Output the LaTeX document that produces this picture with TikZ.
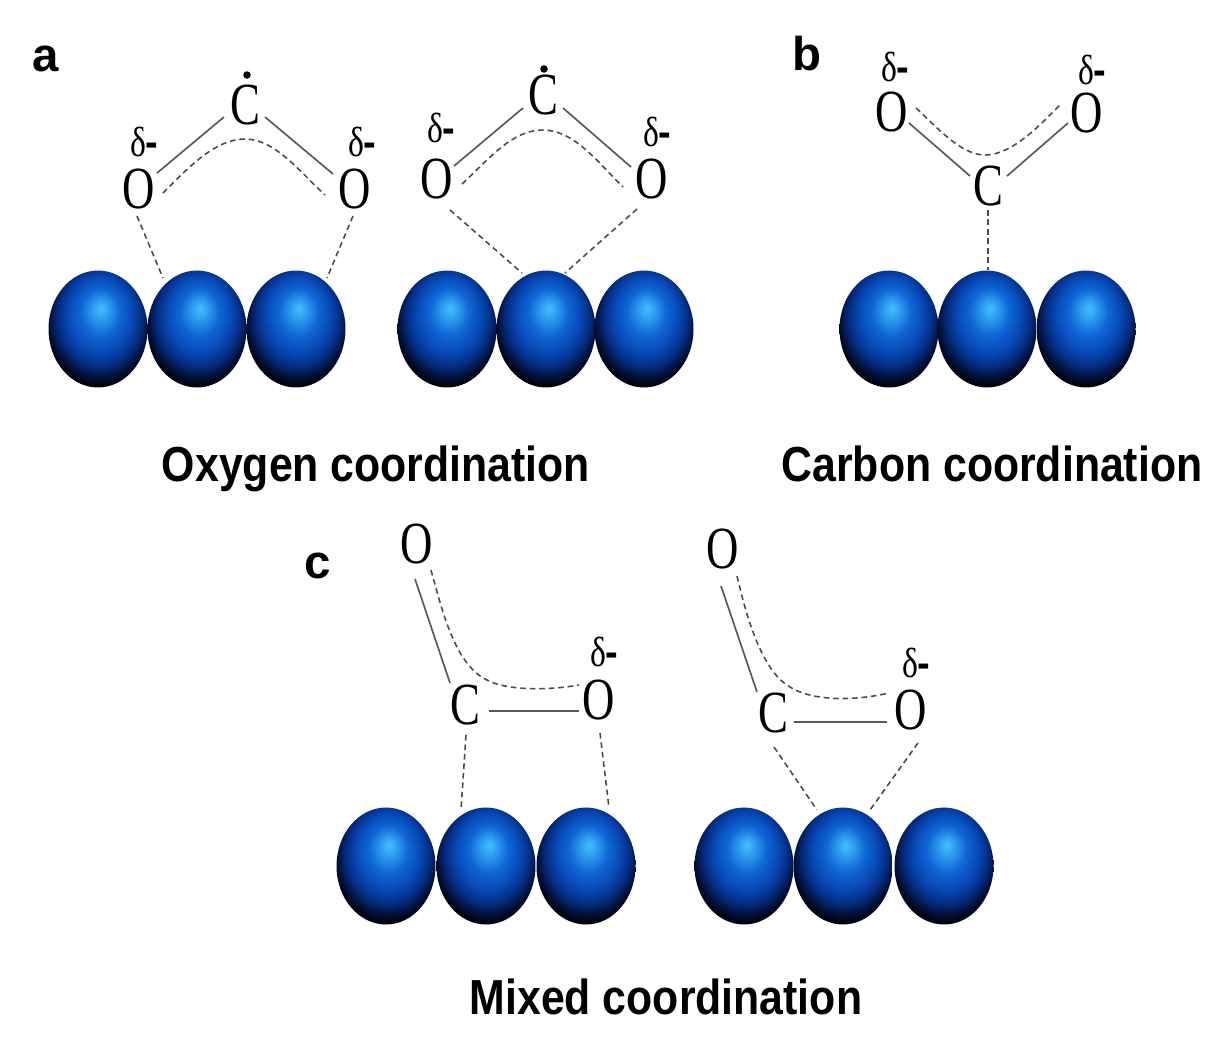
\documentclass[tikz,border=0pt]{standalone}
\usepackage{fontspec}
\setmainfont{Liberation Serif}
\newfontfamily\labelfont{Liberation Sans}[BoldFont={Liberation Sans Bold}]
\usetikzlibrary{shapes.geometric}
\pgfdeclareradialshading{ballshade}{\pgfpoint{1.5bp}{9bp}}{%
 rgb(0bp)=(0.27,0.75,0.98);
 rgb(4bp)=(0.18,0.62,0.94);
 rgb(10bp)=(0.06,0.40,0.84);
 rgb(16bp)=(0.03,0.29,0.72);
 rgb(21bp)=(0.02,0.18,0.52);
 rgb(25bp)=(0.01,0.07,0.24);
 rgb(28bp)=(0,0.01,0.05);
 rgb(30bp)=(0,0,0);
 rgb(50bp)=(0,0,0)}
\tikzset{
 x=0.02cm,y=-0.02cm,
 sphere/.style={ellipse,draw=none,inner sep=0pt,minimum width=1.98cm,minimum height=2.34cm,shading=ballshade},
 atom/.style={inner sep=0pt,font=\fontsize{34}{34}\selectfont,text=black},
 charge/.style={inner sep=0pt,font=\fontsize{24}{24}\selectfont,text=black},
 radical/.style={circle,fill=black,inner sep=0pt,minimum size=0.15cm},
 bond/.style={line width=0.95pt,draw=black!65},
 dbond/.style={line width=0.9pt,draw=black!70,dash pattern=on 3.2pt off 2.2pt},
 panel/.style={inner sep=0pt,font=\labelfont\bfseries\fontsize{27}{27}\selectfont},
 caption/.style={inner sep=0pt,anchor=base,font=\labelfont\bfseries\fontsize{28}{28}\selectfont}
}
\newcommand{\narrow}[1]{\scalebox{0.75}[1]{#1}}
\newcommand{\capt}[1]{\scalebox{0.87}[1]{#1}}
\newcommand{\dm}{\scalebox{0.8}[1]{δ}\kern-0.5pt{\labelfont\bfseries\scalebox{0.9}[1]{-}}}
\begin{document}
\begin{tikzpicture}
\useasboundingbox[fill=white] (0,0) rectangle (1226,1038);
% panel labels
\node[panel] (la) at (46,59) {a};
\node[panel] (lb) at (807,54) {b};
\node[panel] (lc) at (318,566) {c};
% spheres
\foreach \n/\x/\y in {sa1/98/329,sa2/197/329,sa3/296/329,
 sd1/447/329,sd2/546/329,sd3/644/329,
 sb1/889/329,sb2/987/329,sb3/1086/329,
 sc1/386/866,sc2/486/866,sc3/586/866,
 se1/744/866,se2/843/866,se3/944/866}
 \node[sphere] (\n) at (\x,\y) {};
% a, left
\node[atom] (ca) at (245,105) {\narrow{C}};
\node[radical] (ra) at (247,75) {};
\node[atom] (oa1) at (139,189) {\narrow{O}};
\node[atom] (oa2) at (355,189) {\narrow{O}};
\node[charge] (da1) at (144,142) {\dm};
\node[charge] (da2) at (362,142) {\dm};
\draw[bond] ([shift={(-21,12)}]ca.center) -- ([shift={(18,-16)}]oa1.center);
\draw[bond] ([shift={(20,12)}]ca.center) -- ([shift={(-22,-15)}]oa2.center);
\draw[dbond] ([shift={(24,4)}]oa1.center) .. controls (188,168) and (215,139) .. (245,139) .. controls (275,139) and (300,172) .. ([shift={(-30,6)}]oa2.center);
\draw[dbond] ([shift={(-2,27)}]oa1.center) -- ([shift={(65,-51)}]sa1.center);
\draw[dbond] ([shift={(-2,27)}]oa2.center) -- ([shift={(31,-51)}]sa3.center);
% a, right
\node[atom] (cd) at (543,95) {\narrow{C}};
\node[radical] (rd) at (544,69) {};
\node[atom] (od1) at (437,179) {\narrow{O}};
\node[atom] (od2) at (652,179) {\narrow{O}};
\node[charge] (dd1) at (441,128) {\dm};
\node[charge] (dd2) at (657,132) {\dm};
\draw[bond] ([shift={(-20,13)}]cd.center) -- ([shift={(17,-13)}]od1.center);
\draw[bond] ([shift={(20,13)}]cd.center) -- ([shift={(-21,-12)}]od2.center);
\draw[dbond] ([shift={(25,5)}]od1.center) .. controls (490,158) and (512,130) .. (543,130) .. controls (575,130) and (600,165) .. ([shift={(-29,8)}]od2.center);
\draw[dbond] ([shift={(13,31)}]od1.center) -- ([shift={(-24,-56)}]sd2.center);
\draw[dbond] ([shift={(-15,30)}]od2.center) -- ([shift={(19,-56)}]sd2.center);
% b
\node[atom] (cb) at (988,186) {\narrow{C}};
\node[atom] (ob1) at (892,112) {\narrow{O}};
\node[atom] (ob2) at (1087,113) {\narrow{O}};
\node[charge] (db1) at (895,67) {\dm};
\node[charge] (db2) at (1092,70) {\dm};
\draw[bond] ([shift={(17,11)}]ob1.center) -- ([shift={(-18,-10)}]cb.center);
\draw[bond] ([shift={(-19,10)}]ob2.center) -- ([shift={(19,-10)}]cb.center);
\draw[dbond] ([shift={(24,-4)}]ob1.center) .. controls (935,125) and (960,155) .. (985,155) .. controls (1012,155) and (1040,125) .. ([shift={(-27,-8)}]ob2.center);
\draw[dbond] ([shift={(0,24)}]cb.center) -- ([shift={(1,-59)}]sb2.center);
% c, left
\node[atom] (oc1) at (417,544) {\narrow{O}};
\node[atom] (cc) at (465,705) {\narrow{C}};
\node[atom] (oc2) at (599,700) {\narrow{O}};
\node[charge] (dc) at (604,652) {\dm};
\draw[bond] ([shift={(-2,35)}]oc1.center) -- ([shift={(-15,-22)}]cc.center);
\draw[bond] ([shift={(24,6)}]cc.center) -- ([shift={(-20,11)}]oc2.center);
\draw[dbond] ([shift={(14,26)}]oc1.center) .. controls (442,610) and (455,665) .. (487,680) .. controls (505,690) and (545,691) .. ([shift={(-20,-15)}]oc2.center);
\draw[dbond] ([shift={(1,30)}]cc.center) -- ([shift={(-25,-56)}]sc2.center);
\draw[dbond] ([shift={(1,33)}]oc2.center) -- ([shift={(23,-58)}]sc3.center);
% c, right
\node[atom] (oe1) at (723,549) {\narrow{O}};
\node[atom] (ce) at (773,713) {\narrow{C}};
\node[atom] (oe2) at (911,710) {\narrow{O}};
\node[charge] (de) at (916,663) {\dm};
\draw[bond] ([shift={(-2,37)}]oe1.center) -- ([shift={(-16,-21)}]ce.center);
\draw[bond] ([shift={(21,9)}]ce.center) -- ([shift={(-24,12)}]oe2.center);
\draw[dbond] ([shift={(14,27)}]oe1.center) .. controls (745,610) and (760,670) .. (790,687) .. controls (810,700) and (850,702) .. ([shift={(-22,-17)}]oe2.center);
\draw[dbond] ([shift={(1,34)}]ce.center) -- ([shift={(-26,-56)}]se2.center);
\draw[dbond] ([shift={(7,33)}]oe2.center) -- ([shift={(27,-56)}]se2.center);
% captions
\node[caption] (t1) at (376,481) {\capt{Oxygen coordination}};
\node[caption] (t2) at (992,481) {\capt{Carbon coordination}};
\node[caption] (t3) at (666,1014) {\capt{Mixed coordination}};
\end{tikzpicture}
\end{document}
